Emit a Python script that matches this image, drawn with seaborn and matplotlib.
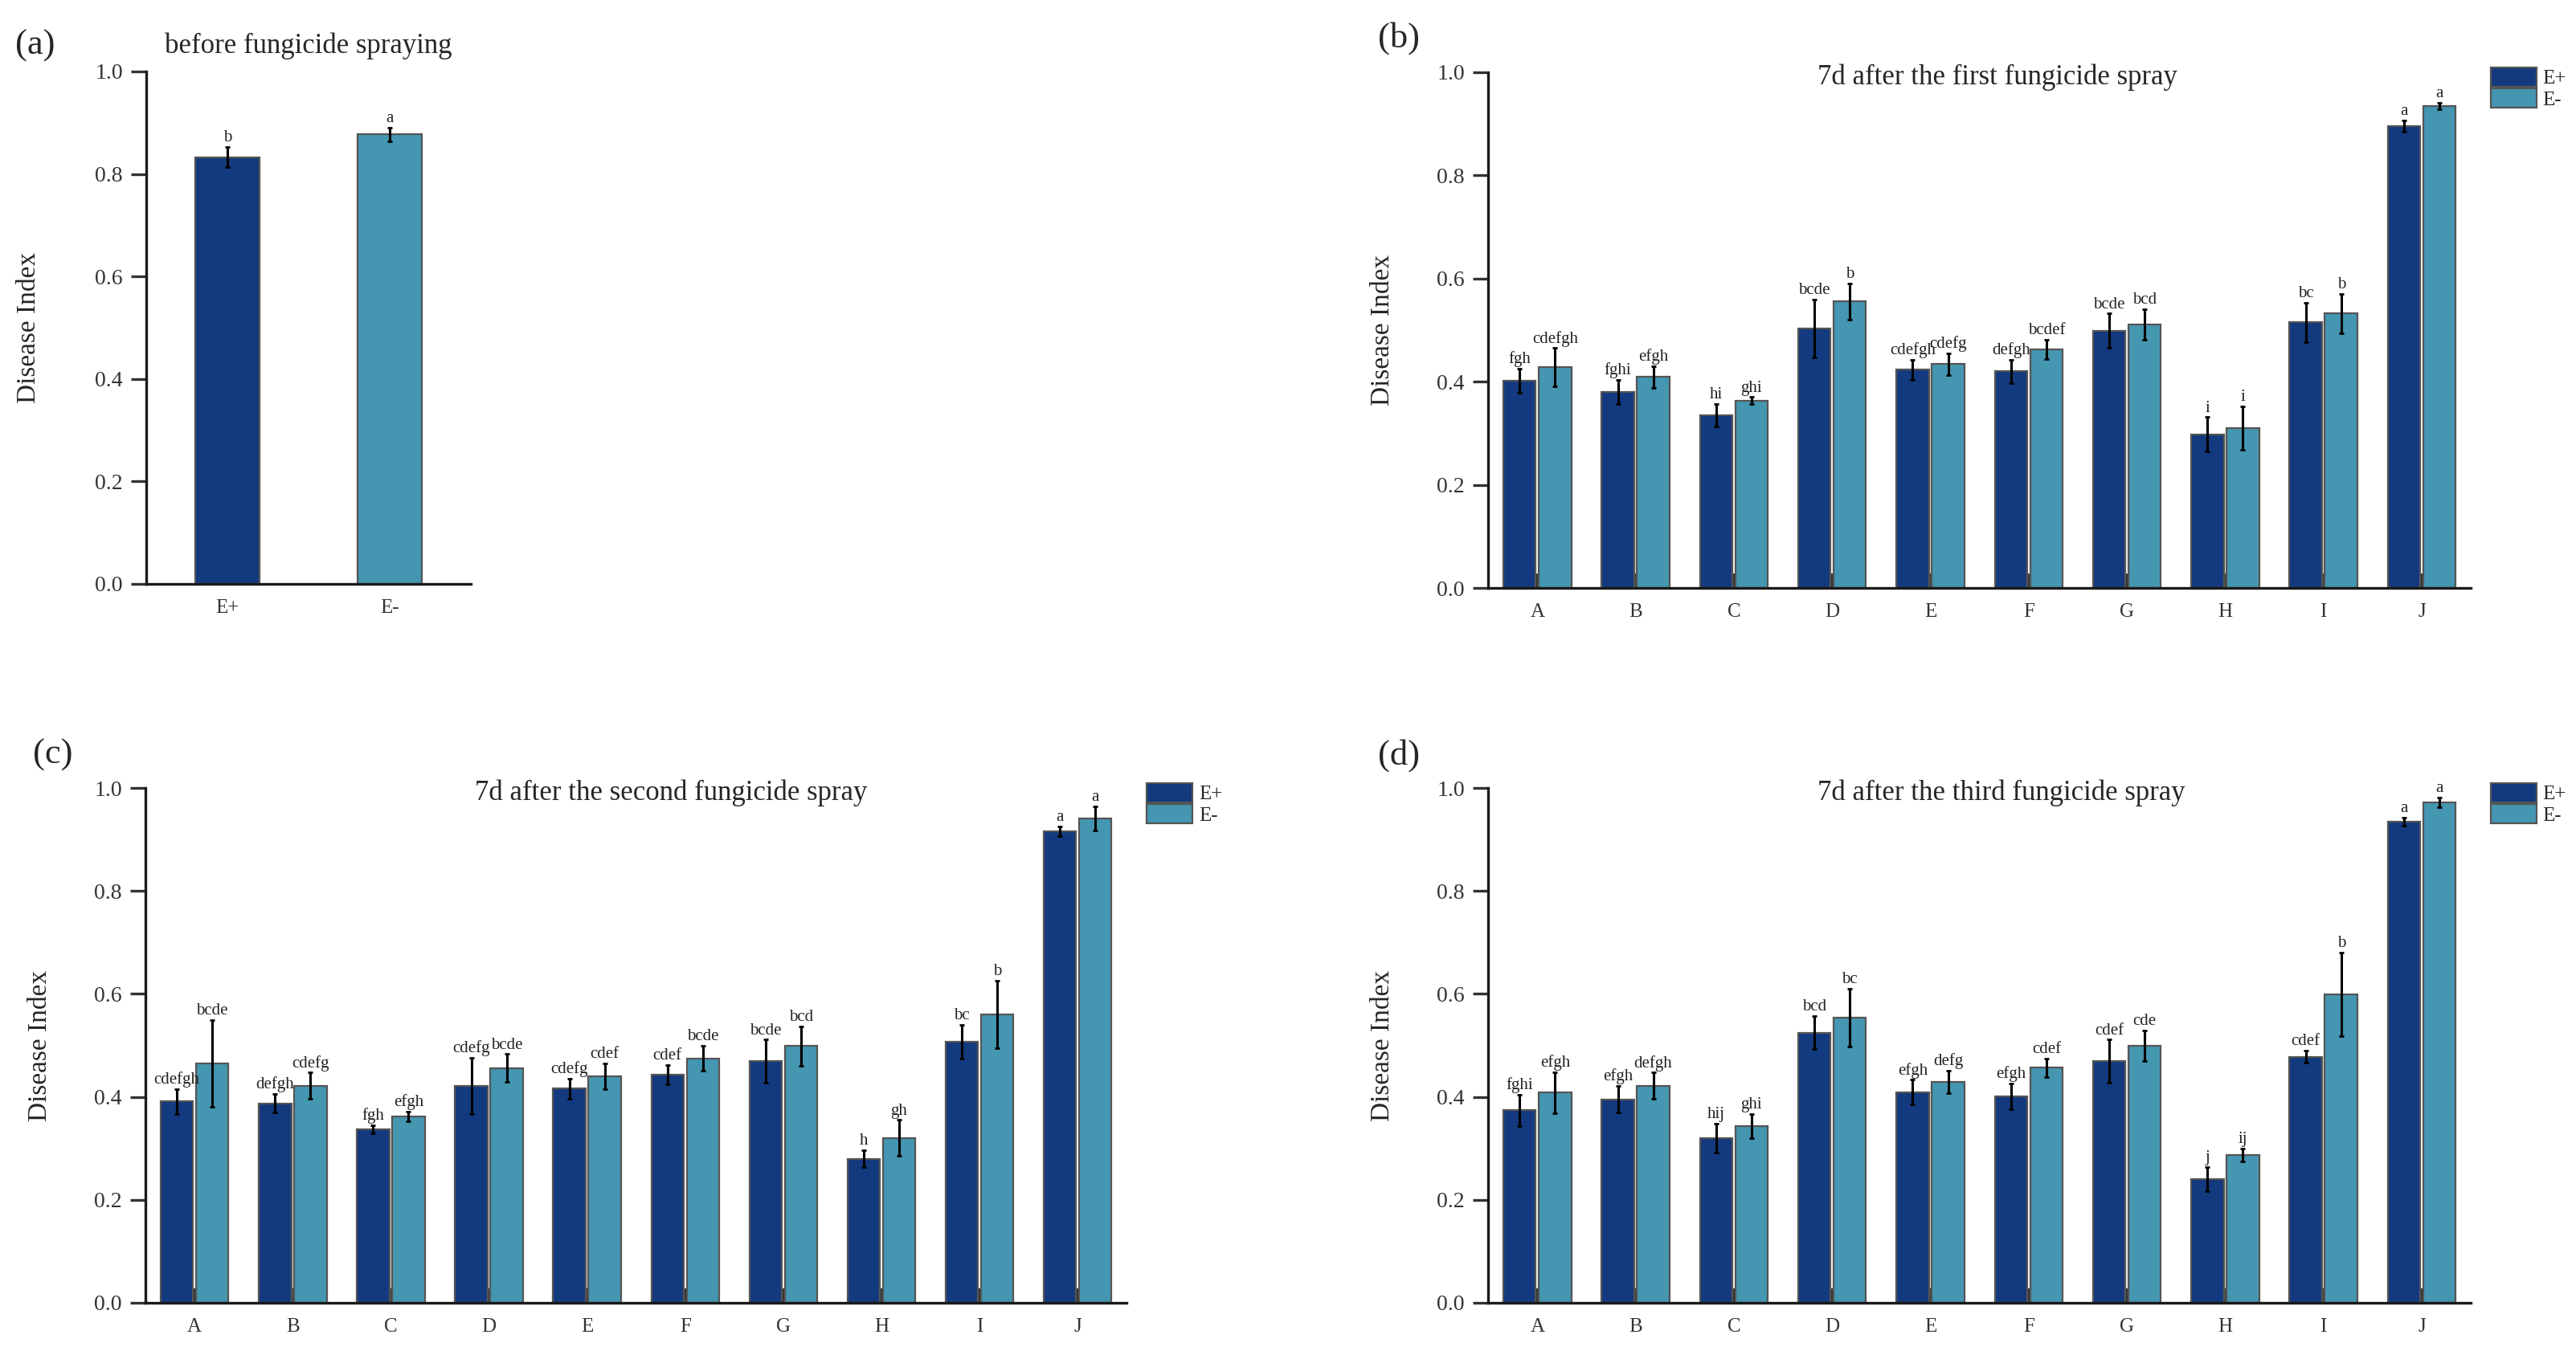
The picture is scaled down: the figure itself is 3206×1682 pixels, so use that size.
import numpy as np
import pandas as pd
import seaborn as sns
import matplotlib.pyplot as plt

# data
groups = ["E+", "E-"]
treatments = ["A", "B", "C", "D", "E", "F", "G", "H", "I", "J"]

before_mean = [0.833, 0.877]
before_err = [0.019, 0.014]
before_letters = ["b", "a"]

first_plus = [0.402, 0.380, 0.335, 0.503, 0.423, 0.420, 0.499, 0.298, 0.515, 0.896]
first_plus_err = [0.024, 0.024, 0.022, 0.056, 0.020, 0.023, 0.033, 0.033, 0.038, 0.011]
first_minus = [0.428, 0.409, 0.363, 0.556, 0.434, 0.463, 0.511, 0.310, 0.532, 0.935]
first_minus_err = [0.037, 0.021, 0.007, 0.035, 0.021, 0.019, 0.030, 0.042, 0.038, 0.006]
first_plus_let = ["fgh", "fghi", "hi", "bcde", "cdefgh", "defgh", "bcde", "i", "bc", "a"]
first_minus_let = ["cdefgh", "efgh", "ghi", "b", "cdefg", "bcdef", "bcd", "i", "b", "a"]

second_plus = [0.391, 0.387, 0.337, 0.421, 0.416, 0.443, 0.469, 0.280, 0.507, 0.916]
second_plus_err = [0.024, 0.018, 0.008, 0.055, 0.020, 0.019, 0.042, 0.016, 0.033, 0.010]
second_minus = [0.465, 0.422, 0.362, 0.456, 0.440, 0.475, 0.499, 0.320, 0.560, 0.941]
second_minus_err = [0.084, 0.025, 0.009, 0.027, 0.025, 0.024, 0.038, 0.035, 0.066, 0.024]
second_plus_let = ["cdefgh", "defgh", "fgh", "cdefg", "cdefg", "cdef", "bcde", "h", "bc", "a"]
second_minus_let = ["bcde", "cdefg", "efgh", "bcde", "cdef", "bcde", "bcd", "gh", "b", "a"]

third_plus = [0.374, 0.395, 0.320, 0.525, 0.409, 0.401, 0.469, 0.240, 0.478, 0.935]
third_plus_err = [0.030, 0.026, 0.028, 0.032, 0.024, 0.025, 0.042, 0.023, 0.012, 0.008]
third_minus = [0.408, 0.422, 0.343, 0.554, 0.429, 0.457, 0.499, 0.287, 0.599, 0.972]
third_minus_err = [0.040, 0.025, 0.023, 0.056, 0.022, 0.018, 0.030, 0.012, 0.081, 0.009]
third_plus_let = ["fghi", "efgh", "hij", "bcd", "efgh", "efgh", "cdef", "j", "cdef", "a"]
third_minus_let = ["efgh", "defgh", "ghi", "bc", "defg", "cdef", "cde", "ij", "b", "a"]

colors = {"E+": "#133a7e", "E-": "#4596b0"}

sns.set_theme(style="ticks")
plt.rcParams["font.family"] = ["Liberation Serif", "DejaVu Serif"]

fig = plt.figure(figsize=(16.03, 8.41), dpi=200)


def style_axis(ax):
    sns.despine(ax=ax)
    for s in ["left", "bottom"]:
        ax.spines[s].set_linewidth(1.2)
        ax.spines[s].set_color("#1a1a1a")
    ax.set_ylim(0, 1.0)
    ax.set_yticks([0.0, 0.2, 0.4, 0.6, 0.8, 1.0])
    ax.tick_params(axis="y", direction="out", length=7, width=1.2, labelsize=10, colors="#333333")
    ax.tick_params(axis="x", direction="in", length=6.5, width=1.5, labelsize=9,
                   colors="#333333", pad=7)
    ax.set_xlabel("")
    ax.set_ylabel("Disease Index", fontsize=12)


def add_err_letters(ax, means, errs, letters):
    # one container per hue level, in order
    for cont, m, e, lt in zip(ax.containers, means, errs, letters):
        xs = [p.get_x() + p.get_width() / 2 for p in cont.patches]
        ax.errorbar(xs, m, yerr=e, fmt="none", ecolor="black", elinewidth=1.1,
                    capsize=1.2, capthick=1.0, zorder=5)
        for x, mv, ev, t in zip(xs, m, e, lt):
            ax.text(x, mv + ev + 0.003, t, ha="center", va="bottom", fontsize=7.5,
                    color="#222222")


# (a) before spraying
ax_a = fig.add_axes([0.0568, 0.5678, 0.126, 0.3793])
df_a = pd.DataFrame({"Group": groups, "Value": before_mean})
sns.barplot(data=df_a, x="Group", y="Value", hue="Group", palette=colors, width=0.4,
            saturation=1, edgecolor="#555555", linewidth=0.8, legend=False, ax=ax_a)
style_axis(ax_a)
ax_a.set_xlim(-0.5, 1.5)
xs_a = [p.get_x() + p.get_width() / 2 for p in ax_a.patches]
ax_a.errorbar(xs_a, before_mean, yerr=before_err, fmt="none", ecolor="black",
              elinewidth=1.1, capsize=1.2, zorder=5)
for x, m, e, t in zip(xs_a, before_mean, before_err, before_letters):
    ax_a.text(x, m + e + 0.003, t, ha="center", va="bottom", fontsize=7.5, color="#222222")
ax_a.text(0.5, 1.05, "before fungicide spraying", transform=ax_a.transAxes,
          ha="center", va="center", fontsize=12.5)
ax_a.yaxis.set_label_coords(-0.324, 0.5)

panels = [
    ([0.5777, 0.5648, 0.3815, 0.3817], "7d after the first fungicide spray", 0.518,
     (first_plus, first_minus), (first_plus_err, first_minus_err), (first_plus_let, first_minus_let)),
    ([0.0565, 0.0357, 0.3809, 0.381], "7d after the second fungicide spray", 0.536,
     (second_plus, second_minus), (second_plus_err, second_minus_err), (second_plus_let, second_minus_let)),
    ([0.5777, 0.0357, 0.3815, 0.381], "7d after the third fungicide spray", 0.522,
     (third_plus, third_minus), (third_plus_err, third_minus_err), (third_plus_let, third_minus_let)),
]

for rect, title, tx, means, errs, lets in panels:
    ax = fig.add_axes(rect)
    df = pd.DataFrame({
        "Treatment": treatments * 2,
        "Group": ["E+"] * len(treatments) + ["E-"] * len(treatments),
        "Value": list(means[0]) + list(means[1]),
    })
    sns.barplot(data=df, x="Treatment", y="Value", hue="Group", palette=colors,
                width=0.72, gap=0.08, saturation=1, edgecolor="#555555", linewidth=0.8, ax=ax)
    style_axis(ax)
    ax.set_xlim(-0.5, 9.5)
    add_err_letters(ax, means, errs, lets)
    ax.text(tx, 0.99, title, transform=ax.transAxes, ha="center", va="center", fontsize=12.5)
    ax.yaxis.set_label_coords(-0.095, 0.5)
    ax.legend(loc="upper left", bbox_to_anchor=(1.02, 1.01), frameon=False, fontsize=9,
              handlelength=2.3, handleheight=1.1, labelspacing=0.05, handletextpad=0.3,
              borderpad=0, borderaxespad=0)

fig.text(0.006, 0.966, "(a)", fontsize=16, va="center")
fig.text(0.535, 0.972, "(b)", fontsize=16, va="center")
fig.text(0.0128, 0.441, "(c)", fontsize=16, va="center")
fig.text(0.535, 0.441, "(d)", fontsize=16, va="center")

fig.savefig("out.png", dpi=200)
